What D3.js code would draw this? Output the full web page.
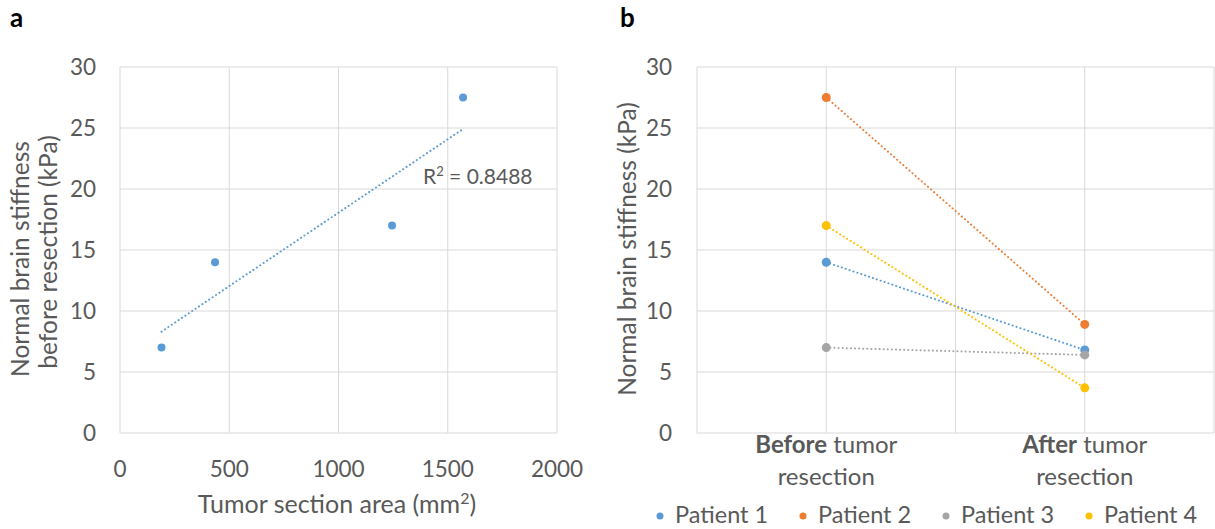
<!DOCTYPE html>
<meta charset="utf-8">
<script src="https://cdn.jsdelivr.net/npm/d3@7"></script>
<style>
  body { margin: 0; background: #fff; }
  text { font-family: Lato, "Open Sans", sans-serif; fill: #595959; }
</style>
<body>
<script>

// panel a data
var areas = [190, 435, 1245, 1570]
var stiffBefore = [7, 14, 17, 27.5]
var r2Label = "0.8488"
var xTicksA = [0, 500, 1000, 1500, 2000]
var yTicks = [0, 5, 10, 15, 20, 25, 30]

// panel b data
var phases = ["Before", "After"]
var patients = ["Patient 1", "Patient 2", "Patient 3", "Patient 4"]
var before = [14, 27.5, 7, 17]
var after = [6.8, 8.9, 6.4, 3.7]
var colors = ["#5B9BD5", "#ED7D31", "#A5A5A5", "#FFC000"]

var width = 1215, height = 529

var svg = d3.select("body").append("svg")
            .attr("width", width)
            .attr("height", height)

var grid = "#d9d9d9"
var tickSize = "22.5px", titleSize = "24.5px"

// ---------- panel a ----------
var xa = d3.scaleLinear().domain([0, 2000]).range([120, 557])
var y = d3.scaleLinear().domain([0, 30]).range([433, 67])

var ga = svg.append("g")

ga.selectAll(".hg").data(yTicks).enter().append("line")
  .attr("x1", xa(0)).attr("x2", xa(2000))
  .attr("y1", d => y(d)).attr("y2", d => y(d))
  .style("stroke", grid).style("stroke-width", 1)
ga.selectAll(".vg").data(xTicksA).enter().append("line")
  .attr("x1", d => xa(d)).attr("x2", d => xa(d))
  .attr("y1", y(0)).attr("y2", y(30))
  .style("stroke", grid).style("stroke-width", 1)

ga.selectAll(".yt").data(yTicks).enter().append("text")
  .attr("x", 96).attr("y", d => y(d) + 8)
  .style("text-anchor", "end").style("font-size", tickSize)
  .text(d => d)
ga.selectAll(".xt").data(xTicksA).enter().append("text")
  .attr("x", d => xa(d)).attr("y", 477)
  .style("text-anchor", "middle").style("font-size", tickSize)
  .text(d => d)

// linear trend through the points
var mx = d3.mean(areas), my = d3.mean(stiffBefore)
var sxy = d3.sum(areas, (d, i) => (d - mx) * (stiffBefore[i] - my))
var sxx = d3.sum(areas, d => (d - mx) * (d - mx))
var slope = sxy / sxx, icpt = my - slope * mx
var x0 = d3.min(areas), x1 = d3.max(areas)
ga.append("line")
  .attr("x1", xa(x0)).attr("y1", y(icpt + slope * x0))
  .attr("x2", xa(x1)).attr("y2", y(icpt + slope * x1))
  .style("stroke", colors[0]).style("stroke-width", 2)
  .style("stroke-dasharray", "0.1 4").style("stroke-linecap", "round")

ga.selectAll(".pt").data(areas).enter().append("circle")
  .attr("cx", d => xa(d)).attr("cy", (d, i) => y(stiffBefore[i]))
  .attr("r", 4).style("fill", colors[0])

var r2 = ga.append("text").attr("x", 423).attr("y", 184).style("font-size", "21px")
r2.append("tspan").text("R")
r2.append("tspan").attr("dy", -8).style("font-size", "13px").text("2")
r2.append("tspan").attr("dy", 8).text(" = " + r2Label)

var xt = ga.append("text").attr("x", 337).attr("y", 513)
  .style("text-anchor", "middle").style("font-size", "25px")
xt.append("tspan").text("Tumor section area (mm")
xt.append("tspan").attr("dy", -9).style("font-size", "16px").text("2")
xt.append("tspan").attr("dy", 9).text(")")

ga.append("text")
  .attr("transform", "translate(29,259) rotate(-90)")
  .style("text-anchor", "middle").style("font-size", titleSize)
  .text("Normal brain stiffness")
ga.append("text")
  .attr("transform", "translate(57,252) rotate(-90)")
  .style("text-anchor", "middle").style("font-size", titleSize)
  .text("before resection (kPa)")

svg.append("text").attr("x", 10).attr("y", 27)
  .style("font-size", "26px").style("font-weight", "bold").style("fill", "#000")
  .text("a")

// ---------- panel b ----------
var xb = d3.scaleBand().domain(phases).range([697, 1214])
var gb = svg.append("g")

gb.selectAll(".hg").data(yTicks).enter().append("line")
  .attr("x1", 697).attr("x2", 1214)
  .attr("y1", d => y(d)).attr("y2", d => y(d))
  .style("stroke", grid).style("stroke-width", 1)
var vx = [697, 1214].concat(phases.map(p => xb(p) + xb.bandwidth() / 2), [xb(phases[1])])
gb.selectAll(".vg").data(vx).enter().append("line")
  .attr("x1", d => d).attr("x2", d => d)
  .attr("y1", y(0)).attr("y2", y(30))
  .style("stroke", grid).style("stroke-width", 1)

gb.selectAll(".yt").data(yTicks).enter().append("text")
  .attr("x", 672).attr("y", d => y(d) + 8)
  .style("text-anchor", "end").style("font-size", tickSize)
  .text(d => d)

gb.append("text")
  .attr("transform", "translate(636,249) rotate(-90)")
  .style("text-anchor", "middle").style("font-size", titleSize)
  .text("Normal brain stiffness (kPa)")

var cx = p => xb(p) + xb.bandwidth() / 2
phases.forEach(function(p) {
  var t = gb.append("text").attr("x", cx(p)).attr("y", 453)
    .style("text-anchor", "middle").style("font-size", "24px")
  t.append("tspan").style("font-weight", "bold").text(p)
  t.append("tspan").text(" tumor")
  gb.append("text").attr("x", cx(p)).attr("y", 485)
    .style("text-anchor", "middle").style("font-size", "24px")
    .text("resection")
})

patients.forEach(function(name, i) {
  var vals = [before[i], after[i]]
  gb.append("path")
    .attr("d", d3.line().x((d, j) => cx(phases[j])).y(d => y(d))(vals))
    .style("fill", "none").style("stroke", colors[i]).style("stroke-width", 2)
    .style("stroke-dasharray", "0.1 4").style("stroke-linecap", "round")
})
patients.forEach(function(name, i) {
  [before[i], after[i]].forEach(function(v, j) {
    gb.append("circle").attr("cx", cx(phases[j])).attr("cy", y(v))
      .attr("r", 4.5).style("fill", colors[i])
  })
})

// legend
var legX = [660, 803, 946, 1089]
patients.forEach(function(name, i) {
  gb.append("circle").attr("cx", legX[i]).attr("cy", 516).attr("r", 3.5).style("fill", colors[i])
  gb.append("text").attr("x", legX[i] + 15).attr("y", 523)
    .style("font-size", "23.5px").text(name)
})

svg.append("text").attr("x", 620).attr("y", 27)
  .style("font-size", "26px").style("font-weight", "bold").style("fill", "#000")
  .text("b")

</script>
</body>
